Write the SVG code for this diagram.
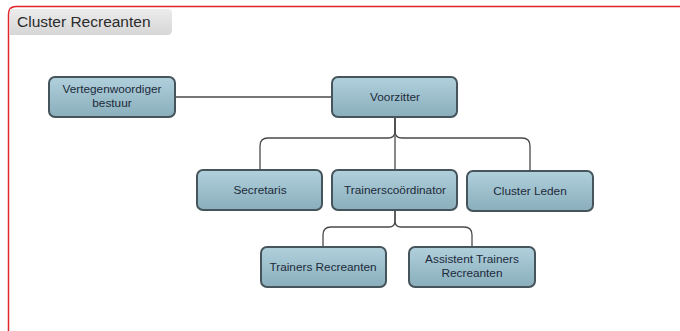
<svg xmlns="http://www.w3.org/2000/svg" width="680" height="331" viewBox="0 0 680 331">
<defs>
<linearGradient id="ng" x1="0" y1="0" x2="0" y2="1">
<stop offset="0" stop-color="#b0d0dc"/>
<stop offset="1" stop-color="#8aaebc"/>
</linearGradient>
<linearGradient id="tg" x1="0" y1="0" x2="0" y2="1">
<stop offset="0" stop-color="#ececec"/>
<stop offset="1" stop-color="#d6d6d6"/>
</linearGradient>
<style>
.node rect{fill:url(#ng);stroke:#46555b;stroke-width:2}
.node text{font-family:"Liberation Sans",Arial,sans-serif;font-size:11.8px;fill:#1c2a3a;text-anchor:middle}
.conn path{fill:none;stroke:#4a4a4a;stroke-width:1.3}
</style>
</defs>
<rect x="0" y="0" width="680" height="331" fill="#ffffff"/>
<path d="M8.5,340 V14 Q8.5,6.5 16,6.5 H690" fill="none" stroke="#e0262b" stroke-width="1.5"/>
<g id="title">
<path d="M10,9 H168 Q172,9 172,13 V30 Q172,35 167,35 H10 Z" fill="url(#tg)"/>
<text x="17" y="27" font-family="Liberation Sans,Arial,sans-serif" font-size="15.5" fill="#2b2b2b">Cluster Recreanten</text>
</g>
<g id="connectors" class="conn">
<path d="M175,97 H332"/>
<path d="M395,117 V131 Q395,138 388,138 H268 Q260,138 260,146 V170"/>
<path d="M395,117 V131 Q395,138 402,138 H522 Q530,138 530,146 V171"/>
<path d="M395,117 V170"/>
<path d="M395,210 V221 Q395,227 389,227 H331 Q323,227 323,235 V247"/>
<path d="M395,210 V221 Q395,227 401,227 H464 Q472,227 472,235 V247"/>
</g>
<g id="n-vertegenwoordiger" class="node">
<rect x="49" y="77" width="126" height="40" rx="6"/>
<text x="112" y="93">Vertegenwoordiger</text>
<text x="112" y="107">bestuur</text>
</g>
<g id="n-voorzitter" class="node">
<rect x="332" y="77" width="125" height="40" rx="6"/>
<text x="395" y="101">Voorzitter</text>
</g>
<g id="n-secretaris" class="node">
<rect x="197" y="170" width="125" height="40" rx="6"/>
<text x="260" y="194">Secretaris</text>
</g>
<g id="n-trainerscoordinator" class="node">
<rect x="332" y="170" width="125" height="40" rx="6"/>
<text x="395" y="194">Trainerscoördinator</text>
</g>
<g id="n-clusterleden" class="node">
<rect x="467" y="171" width="126" height="40" rx="6"/>
<text x="530" y="195">Cluster Leden</text>
</g>
<g id="n-trainers" class="node">
<rect x="261" y="247" width="125" height="40" rx="6"/>
<text x="323" y="271">Trainers Recreanten</text>
</g>
<g id="n-assistent" class="node">
<rect x="409" y="247" width="126" height="40" rx="6"/>
<text x="472" y="263">Assistent Trainers</text>
<text x="472" y="277">Recreanten</text>
</g>
</svg>
